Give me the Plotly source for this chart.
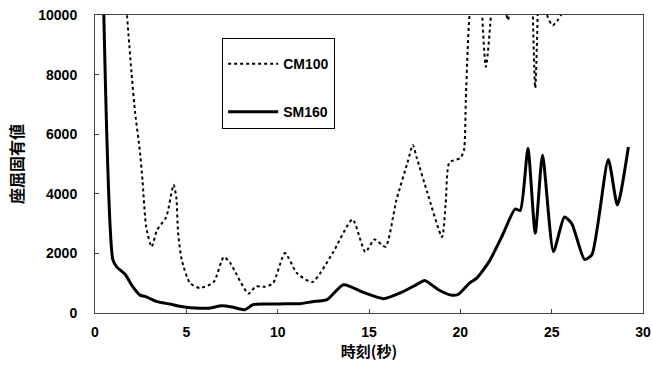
import plotly.graph_objects as go

# CM100 (dotted) — values above 10000 are clipped by the axis range
cm_t = [1.5, 2.0, 2.2, 2.45, 2.6, 2.8, 3.1, 3.4, 3.9, 4.3, 4.45, 4.55, 4.75, 5.2, 5.75,
        6.5, 7.05, 7.4, 8.4, 8.8, 9.3, 9.75, 10.4, 11.05, 11.9, 13.0, 14.1, 14.8, 15.3,
        15.9, 16.5, 17.1, 17.4, 17.6, 18.2, 19.0, 19.2, 19.4, 20.0, 20.2, 20.3, 20.4,
        20.5, 20.9, 21.4, 22.0, 22.3, 22.6, 22.9, 23.7, 24.1, 24.4, 24.75, 25.05, 25.3,
        25.55, 26.0]
cm_v = [12000, 8050, 6700, 5470, 4460, 2890, 2220, 2790, 3220, 4300, 3890, 2680, 1780, 1000, 840,
        1040, 1880, 1680, 650, 890, 880, 1000, 2010, 1340, 1040, 2000, 3140, 2050, 2470,
        2220, 3790, 5030, 5640, 5240, 4030, 2550, 3690, 5050, 5200, 5470, 7150, 8830,
        10000, 13000, 8260, 12000, 11000, 9830, 11000, 14000, 7550, 13000, 10000, 9650, 9800,
        10050, 12000]

# SM160 (solid)
sm_t = [0.48, 0.98, 1.2, 1.65, 2.0, 2.46, 2.74, 3.4, 4.1, 4.8, 5.75, 6.2, 6.95, 7.5, 8.2,
        8.65, 9.5, 10.5, 11.2, 11.9, 12.7, 13.6, 14.7, 15.8, 16.8, 17.6, 18.05, 18.8,
        19.5, 19.9, 20.5, 20.9, 21.6, 22.3, 23.0, 23.28, 23.7, 24.1, 24.5, 25.1, 25.7,
        26.1, 26.8, 27.2, 28.1, 28.6, 29.2]
sm_v = [10100, 1780, 1540, 1300, 940, 600, 560, 380, 300, 210, 160, 160, 240, 200, 110,
        280, 300, 310, 310, 380, 450, 950, 690, 480, 700, 950, 1090, 780,
        600, 630, 1000, 1170, 1750, 2600, 3490, 3440, 5520, 2680, 5300, 2060, 3220,
        3000, 1800, 1950, 5150, 3620, 5570]

x_ticks = [0, 5, 10, 15, 20, 25, 30]
y_ticks = [0, 2000, 4000, 6000, 8000, 10000]

LAT = "Liberation Sans, Arial, sans-serif"
CJK = "Noto Sans CJK JP, sans-serif"

fig = go.Figure()
fig.add_trace(go.Scatter(x=cm_t, y=cm_v, mode="lines", name="CM100",
                         line=dict(color="black", width=2, dash="dot", shape="spline", smoothing=0.6),
                         legendgroup="a"))
fig.add_trace(go.Scatter(x=sm_t, y=sm_v, mode="lines", name="SM160",
                         line=dict(color="black", width=3, shape="spline", smoothing=0.6),
                         legendgroup="b"))

axis_common = dict(showline=True, linecolor="#444", linewidth=1, mirror=True,
                   ticks="inside", ticklen=4, tickcolor="#444", showgrid=False, zeroline=False,
                   ticklabeloverflow="allow", automargin=False,
                   tickfont=dict(family=LAT, size=14, color="black", weight="bold"))

fig.update_xaxes(range=[0, 30], tickvals=x_ticks, ticklabelstandoff=6,
                 title=dict(text="時刻(秒)", font=dict(family=CJK, size=15, color="black", weight="bold"),
                            standoff=4),
                 **axis_common)
fig.update_yaxes(range=[0, 10000], tickvals=y_ticks, tickformat="d", ticklabelstandoff=14,
                 title=dict(text="座屈固有値", font=dict(family=CJK, size=16, color="black", weight="bold"),
                            standoff=10),
                 **axis_common)

fig.update_layout(
    width=652, height=373,
    margin=dict(l=95, r=9, t=15, b=60),
    plot_bgcolor="white", paper_bgcolor="white",
    showlegend=True,
    legend=dict(x=0.232, y=0.923, xanchor="left", yanchor="top",
                bgcolor="white", bordercolor="black", borderwidth=1,
                title=dict(text=" ", font=dict(size=7)),
                font=dict(family=LAT, size=14, color="black", weight="bold"),
                itemwidth=50, tracegroupgap=27, traceorder="grouped",
                entrywidth=62, entrywidthmode="pixels"),
)

fig.write_html("out.html", config={"displayModeBar": False},
               post_script="document.body.style.margin='0';")
